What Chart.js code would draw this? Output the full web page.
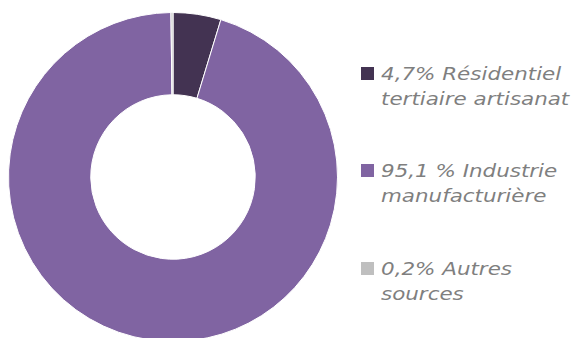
<!DOCTYPE html>
<html>
<head>
<meta charset="utf-8">
<script src="https://cdn.jsdelivr.net/npm/chart.js@4/dist/chart.umd.min.js"></script>
<style>
  html, body { margin: 0; padding: 0; background: #fff; overflow: hidden; }
  #wrap { position: relative; width: 574px; height: 338px; overflow: hidden; }
  #chartBox { position: absolute; left: 8px; top: 12px; width: 330px; height: 330px; }
  #legend { position: absolute; left: 361px; top: 0; width: 213px; }
  .item { position: absolute; left: 0; font-family: "DejaVu Sans", Verdana, sans-serif;
          font-style: italic; font-size: 18px; line-height: 25px; color: #7f7f7f; white-space: nowrap; }
  .item .sw { position: absolute; left: 0; top: 6px; width: 13px; height: 13px; }
  .item .txt { display: inline-block; margin-left: 20px; transform: scaleX(1.19); transform-origin: left top; }
</style>
</head>
<body>
<div id="wrap">
  <div id="chartBox"><canvas id="donut"></canvas></div>
  <div id="legend"></div>
</div>
<script>
// data
const categories = [
    ['4,7% Résidentiel', 'tertiaire artisanat'],
    ['95,1 % Industrie', 'manufacturière'],
    ['0,2% Autres', 'sources']
];
const shares = [4.7, 95.1, 0.2];
const sliceColors = ['#433352', '#8064A2', '#BFBFBF'];

document.addEventListener('DOMContentLoaded', function() {
    const ctx = document.getElementById('donut');

    const chart = new Chart(ctx, {
        type: 'doughnut',
        data: {
            labels: categories.map(c => c.join(' ')),
            datasets: [{
                data: shares,
                backgroundColor: sliceColors,
                borderColor: '#ffffff',
                borderWidth: 1,
                hoverOffset: 0
            }]
        },
        options: {
            responsive: true,
            maintainAspectRatio: false,
            animation: false,
            cutout: '50%',
            layout: { padding: 0 },
            plugins: {
                legend: { display: false },
                tooltip: { enabled: false }
            }
        }
    });

    // HTML legend built from the same arrays
    const legend = document.getElementById('legend');
    const tops = [61, 158, 256];
    categories.forEach((lines, i) => {
        const item = document.createElement('div');
        item.className = 'item';
        item.style.top = tops[i] + 'px';
        const sw = document.createElement('div');
        sw.className = 'sw';
        sw.style.background = chart.data.datasets[0].backgroundColor[i];
        const txt = document.createElement('div');
        txt.className = 'txt';
        txt.innerHTML = lines.join('<br>');
        item.appendChild(sw);
        item.appendChild(txt);
        legend.appendChild(item);
    });
});
</script>
</body>
</html>
